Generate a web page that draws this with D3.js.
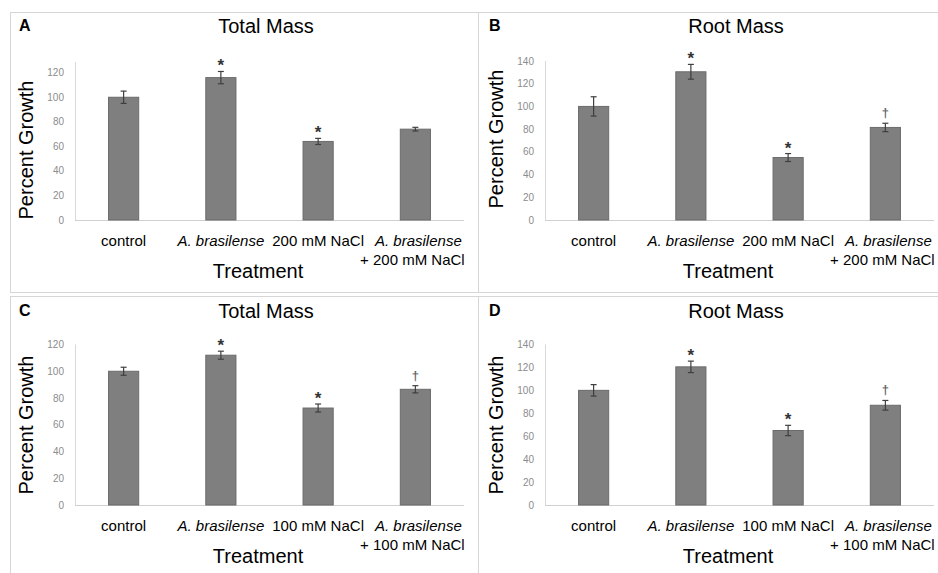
<!DOCTYPE html>
<html>
<head>
	<script src="https://d3js.org/d3.v7.min.js"></script>
	<title></title>
	<style type="text/css">
		body { margin: 0; background: #fff; }
		text { font-family: "Liberation Sans", Arial, sans-serif; }
	</style>
</head>
<body>
	<div id="chart"></div>

	<script type="text/javascript">

		// data
		var categories200 = ["control", "A. brasilense", "200 mM NaCl", "A. brasilense + 200 mM NaCl"];
		var categories100 = ["control", "A. brasilense", "100 mM NaCl", "A. brasilense + 100 mM NaCl"];

		var totalMass200 = [100, 116, 64, 74];
		var totalMass200Err = [5, 5, 2.5, 1.5];
		var totalMass200Sig = ["", "*", "*", ""];

		var rootMass200 = [100, 130.5, 55, 81.5];
		var rootMass200Err = [8.5, 6.5, 3.5, 3.7];
		var rootMass200Sig = ["", "*", "*", "†"];

		var totalMass100 = [100, 112, 72.5, 86.5];
		var totalMass100Err = [3, 3, 3, 2.7];
		var totalMass100Sig = ["", "*", "*", "†"];

		var rootMass100 = [100, 120.5, 65, 87];
		var rootMass100Err = [5, 5, 4.5, 4.2];
		var rootMass100Sig = ["", "*", "*", "†"];

		var ticksTotal = [0, 20, 40, 60, 80, 100, 120];
		var ticksRoot = [0, 20, 40, 60, 80, 100, 120, 140];

		var panels = [
			{letter: "A", title: "Total Mass", cats: categories200, vals: totalMass200, err: totalMass200Err, sig: totalMass200Sig, ticks: ticksTotal,
			 ox: 0, oy: 0, tickTop: 72.7, axisTop: 62, ytitle: 150},
			{letter: "B", title: "Root Mass", cats: categories200, vals: rootMass200, err: rootMass200Err, sig: rootMass200Sig, ticks: ticksRoot,
			 ox: 470, oy: 0, tickTop: 61, axisTop: 61, ytitle: 139},
			{letter: "C", title: "Total Mass", cats: categories100, vals: totalMass100, err: totalMass100Err, sig: totalMass100Sig, ticks: ticksTotal,
			 ox: 0, oy: 285, tickTop: 59.5, axisTop: 59.5, ytitle: 140},
			{letter: "D", title: "Root Mass", cats: categories100, vals: rootMass100, err: rootMass100Err, sig: rootMass100Sig, ticks: ticksRoot,
			 ox: 470, oy: 285, tickTop: 59.5, axisTop: 59.5, ytitle: 140}
		];

		var width = 938, height = 573;
		var baseline = 220;

		var svg = d3.select("#chart")
		  .append("svg")
		  .attr("width", width)
		  .attr("height", height)
		  .style("background-color", "#fff");

		// panel frames
		var frame = "#d6d6d6";
		svg.append("rect").attr("x", 10.5).attr("y", 12.5).attr("width", 468).attr("height", 280).attr("fill", "none").attr("stroke", frame);
		svg.append("rect").attr("x", 478.5).attr("y", 12.5).attr("width", 470).attr("height", 280).attr("fill", "none").attr("stroke", frame);
		svg.append("rect").attr("x", 10.5).attr("y", 296.5).attr("width", 468).attr("height", 290).attr("fill", "none").attr("stroke", frame);
		svg.append("rect").attr("x", 478.5).attr("y", 296.5).attr("width", 470).attr("height", 290).attr("fill", "none").attr("stroke", frame);

		panels.forEach(function(p) {
			var g = svg.append("g").attr("transform", "translate(" + p.ox + "," + p.oy + ")");

			var xscale = d3.scaleBand().domain(p.cats).range([75, 464]).paddingInner(0.69).paddingOuter(0.345);
			var yscale = d3.scaleLinear().domain([0, d3.max(p.ticks)]).range([baseline, p.tickTop]);

			// letter + title
			g.append("text").attr("x", 19).attr("y", 31).attr("font-size", 16).attr("font-weight", "bold").text(p.letter);
			g.append("text").attr("x", 266).attr("y", 33).attr("font-size", 20).attr("text-anchor", "middle").text(p.title);

			// axes lines
			g.append("line").attr("x1", 75.5).attr("x2", 75.5).attr("y1", baseline).attr("y2", p.axisTop)
			  .attr("stroke", "#d9d9d9");
			g.append("line").attr("x1", 75).attr("x2", 464).attr("y1", baseline + 0.5).attr("y2", baseline + 0.5)
			  .attr("stroke", "#d0d0d0");

			// y ticks
			g.selectAll(".ytick").data(p.ticks).enter().append("text")
			  .attr("x", 64).attr("y", function(d) { return yscale(d) + 3.5; })
			  .attr("text-anchor", "end").attr("font-size", 10).attr("fill", "#8c8c8c")
			  .text(function(d) { return d; });

			// bars
			var rows = p.cats.map(function(c, i) { return {c: c, v: p.vals[i], e: p.err[i], s: p.sig[i]}; });

			g.selectAll(".bar").data(rows).enter().append("rect")
			  .attr("x", function(d) { return xscale(d.c); })
			  .attr("y", function(d) { return yscale(d.v); })
			  .attr("width", xscale.bandwidth())
			  .attr("height", function(d) { return baseline - yscale(d.v); })
			  .attr("fill", "#7f7f7f").attr("stroke", "#6b6b6b").attr("stroke-width", 1);

			// error bars
			var eb = g.selectAll(".err").data(rows).enter().append("g")
			  .attr("stroke", "#3f3f3f").attr("stroke-width", 1.2);
			eb.append("line")
			  .attr("x1", function(d) { return xscale(d.c) + xscale.bandwidth() / 2; })
			  .attr("x2", function(d) { return xscale(d.c) + xscale.bandwidth() / 2; })
			  .attr("y1", function(d) { return yscale(d.v + d.e); })
			  .attr("y2", function(d) { return yscale(d.v - d.e); });
			[1, -1].forEach(function(sgn) {
				eb.append("line")
				  .attr("x1", function(d) { return xscale(d.c) + xscale.bandwidth() / 2 - 3; })
				  .attr("x2", function(d) { return xscale(d.c) + xscale.bandwidth() / 2 + 3; })
				  .attr("y1", function(d) { return yscale(d.v + sgn * d.e); })
				  .attr("y2", function(d) { return yscale(d.v + sgn * d.e); });
			});

			// significance marks
			g.selectAll(".sig").data(rows.filter(function(d) { return d.s; })).enter().append("text")
			  .attr("x", function(d) { return xscale(d.c) + xscale.bandwidth() / 2; })
			  .attr("y", function(d) {
				var c = yscale(d.v + d.e) - 10;
				return d.s == "*" ? c + 10 : c + 4;
			  })
			  .attr("text-anchor", "middle")
			  .attr("font-size", function(d) { return d.s == "*" ? 17 : 13; })
			  .attr("font-weight", "bold")
			  .attr("fill", function(d) { return d.s == "*" ? "#333" : "#666"; })
			  .text(function(d) { return d.s; });

			// x labels
			rows.forEach(function(d) {
				var cx = xscale(d.c) + xscale.bandwidth() / 2;
				var t = g.append("text").attr("x", cx).attr("y", 246).attr("font-size", 15).attr("text-anchor", "middle");
				if (d.c.indexOf(" + ") > 0) {
					var parts = d.c.split(" + ");
					t.attr("x", cx + 3).append("tspan").attr("font-style", "italic").text(parts[0]);
					g.append("text").attr("x", cx - 3).attr("y", 265).attr("font-size", 15).attr("text-anchor", "middle")
					  .text("+ " + parts[1]);
				} else if (d.c.indexOf("A. brasilense") == 0) {
					t.attr("font-style", "italic").text(d.c);
				} else {
					t.text(d.c);
				}
			});

			// axis titles
			g.append("text").attr("x", 258).attr("y", 278).attr("font-size", 20).attr("text-anchor", "middle").text("Treatment");
			g.append("text").attr("transform", "translate(33," + p.ytitle + ") rotate(-90)")
			  .attr("font-size", 20).attr("text-anchor", "middle").text("Percent Growth");
		});

	</script>
</body>
</html>
